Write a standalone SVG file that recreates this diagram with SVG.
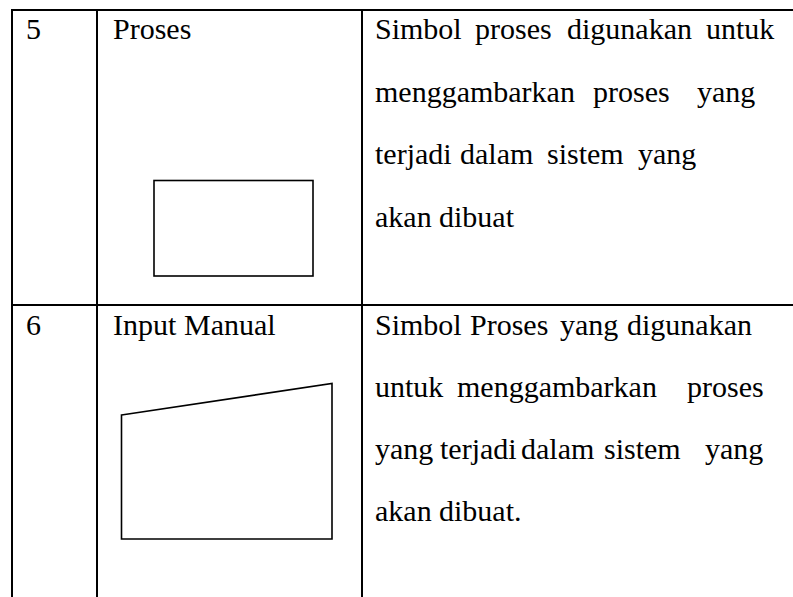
<svg xmlns="http://www.w3.org/2000/svg" width="793" height="597" viewBox="0 0 793 597" font-family="Liberation Serif, serif" font-size="30">
<style>
.grid{stroke:#000;stroke-width:2;fill:none}
.shape{stroke:#000;stroke-width:1.6;fill:#fff}
</style>
<rect x="0" y="0" width="793" height="597" fill="#fff"/>
<g id="table-grid">
<line class="grid" x1="11" y1="10" x2="793" y2="10"/>
<line class="grid" x1="11" y1="305" x2="793" y2="305"/>
<line class="grid" x1="12" y1="9" x2="12" y2="597"/>
<line class="grid" x1="97" y1="9" x2="97" y2="597"/>
<line class="grid" x1="362" y1="9" x2="362" y2="597"/>
</g>
<g id="row-5">
<text x="26" y="39" font-family="Liberation Serif, serif">5</text>
<text x="113" y="39" font-family="Liberation Serif, serif">Proses</text>
<rect class="shape" x="154" y="180.5" width="159" height="95.5"/>
<text y="39" font-family="Liberation Serif, serif"><tspan x="375">Simbol</tspan><tspan x="475">proses</tspan><tspan x="567">digunakan</tspan><tspan x="706">untuk</tspan></text>
<text y="101.5" font-family="Liberation Serif, serif"><tspan x="375">menggambarkan</tspan><tspan x="593">proses</tspan><tspan x="697">yang</tspan></text>
<text y="164" font-family="Liberation Serif, serif"><tspan x="375">terjadi</tspan><tspan x="460">dalam</tspan><tspan x="547">sistem</tspan><tspan x="638">yang</tspan></text>
<text y="226.5" font-family="Liberation Serif, serif"><tspan x="375">akan</tspan><tspan x="439">dibuat</tspan></text>
</g>
<g id="row-6">
<text x="26" y="335" font-family="Liberation Serif, serif">6</text>
<text y="335" font-family="Liberation Serif, serif"><tspan x="113">Input</tspan><tspan x="184">Manual</tspan></text>
<polygon class="shape" points="121.5,415 332,383.5 332,539 121.5,539"/>
<text y="335" font-family="Liberation Serif, serif"><tspan x="375">Simbol</tspan><tspan x="470">Proses</tspan><tspan x="560">yang</tspan><tspan x="627">digunakan</tspan></text>
<text y="397" font-family="Liberation Serif, serif"><tspan x="375">untuk</tspan><tspan x="457">menggambarkan</tspan><tspan x="687">proses</tspan></text>
<text y="459" font-family="Liberation Serif, serif"><tspan x="375">yang</tspan><tspan x="440">terjadi</tspan><tspan x="521">dalam</tspan><tspan x="604">sistem</tspan><tspan x="705">yang</tspan></text>
<text y="521" font-family="Liberation Serif, serif"><tspan x="375">akan</tspan><tspan x="439">dibuat.</tspan></text>
</g>
</svg>
